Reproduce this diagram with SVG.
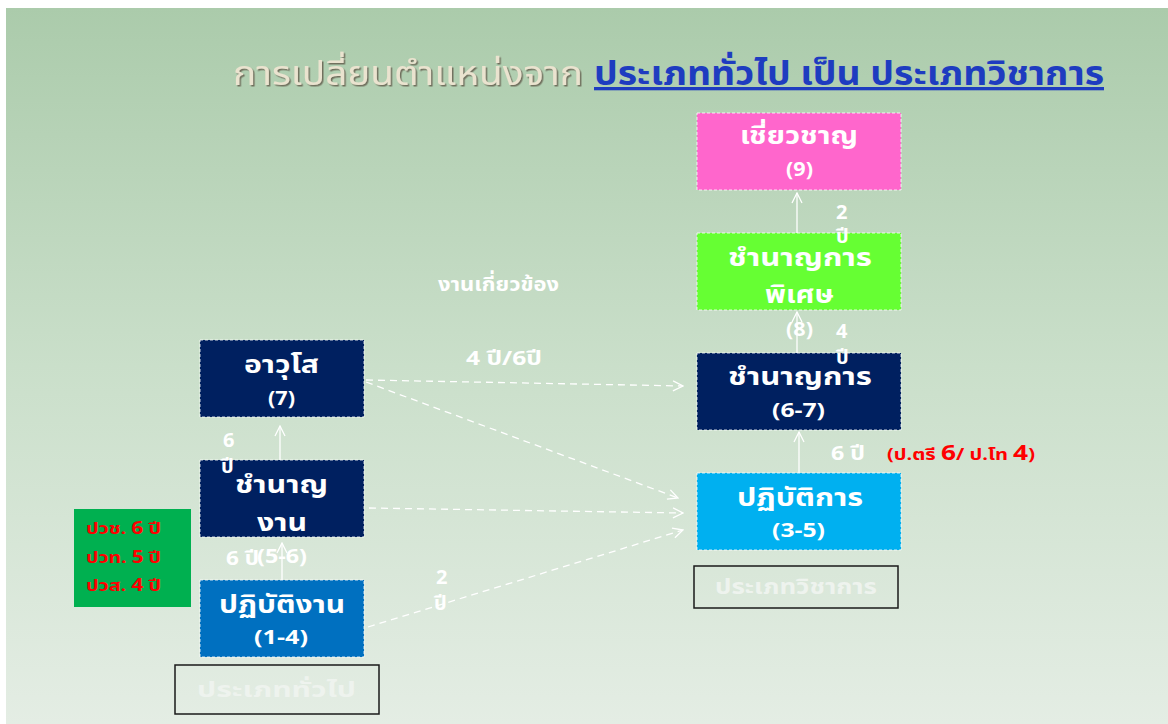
<svg xmlns="http://www.w3.org/2000/svg" width="1168" height="724" viewBox="0 0 1168 724">
<defs>
<linearGradient id="bg" x1="0" y1="0" x2="0" y2="1">
<stop offset="0" stop-color="#abcbab"/>
<stop offset="0.5" stop-color="#cadfca"/>
<stop offset="1" stop-color="#e4ede4"/>
</linearGradient>
<filter id="emb" x="-5%" y="-30%" width="110%" height="160%">
<feDropShadow dx="1.5" dy="1.5" stdDeviation="0.6" flood-color="#6b6655" flood-opacity="0.9"/>
</filter>
<marker id="ah" viewBox="0 0 12 12" refX="11" refY="6" markerWidth="12" markerHeight="12" markerUnits="userSpaceOnUse" orient="auto">
<path d="M1,1 L11,6 L1,11" fill="none" stroke="#ffffff" stroke-width="1.3"/>
</marker>
</defs>
<style>
text{font-family:'Noto Sans Thai','Noto Sans Thai UI','Loma','Garuda','DejaVu Sans','Noto Sans',sans-serif;font-weight:bold;}
.box{stroke:#ffffff;stroke-width:1;stroke-dasharray:3 2;stroke-opacity:0.8;}
.t{fill:#ffffff;font-size:24px;}
.n{fill:#ffffff;font-size:20px;}
.lbl{fill:#ffffff;font-size:20px;}
.cap{fill:none;stroke:#1a1a1a;stroke-width:1.5;}
.capt{fill:#eef3ee;font-size:21px;}
.red{fill:#ff0000;font-size:16px;}
.solid{stroke:#ffffff;stroke-width:1.3;fill:none;}
.dash{stroke:#ffffff;stroke-width:1.3;fill:none;stroke-dasharray:7 5;}
</style>
<rect x="0" y="0" width="1168" height="724" fill="#ffffff"/>
<rect x="6" y="8" width="1162" height="716" fill="url(#bg)"/>

<g id="title">
<text x="233" y="85" font-size="33" fill="#eae3cf" filter="url(#emb)" style="font-weight:normal" textLength="350" lengthAdjust="spacingAndGlyphs">การเปลี่ยนตำแหน่งจาก</text>
<text x="594" y="85" font-size="33" fill="#1e3cc0" text-decoration="underline" textLength="510" lengthAdjust="spacingAndGlyphs">ประเภททั่วไป เป็น ประเภทวิชาการ</text>
</g>

<g id="connectors">
<line class="solid" x1="797" y1="233" x2="797" y2="193" marker-end="url(#ah)"/>
<line class="solid" x1="797" y1="353" x2="797" y2="312" marker-end="url(#ah)"/>
<line class="solid" x1="799" y1="473" x2="799" y2="432" marker-end="url(#ah)"/>
<line class="solid" x1="280" y1="460" x2="280" y2="426" marker-end="url(#ah)"/>
<line class="solid" x1="282" y1="580" x2="282" y2="543" marker-end="url(#ah)"/>
<line class="dash" x1="366" y1="380" x2="683" y2="386" marker-end="url(#ah)"/>
<line class="dash" x1="366" y1="382" x2="678" y2="498" marker-end="url(#ah)"/>
<line class="dash" x1="369" y1="508" x2="683" y2="513" marker-end="url(#ah)"/>
<line class="dash" x1="368" y1="627" x2="683" y2="530" marker-end="url(#ah)"/>
</g>

<g id="n9">
<rect class="box" x="697" y="113" width="204" height="77" fill="#ff66cc"/>
<text class="t" x="740" y="144" textLength="118" lengthAdjust="spacingAndGlyphs">เชี่ยวชาญ</text>
<text class="n" x="786" y="176" textLength="27" lengthAdjust="spacingAndGlyphs">(9)</text>
</g>
<g id="n8">
<rect class="box" x="697" y="233" width="204" height="77" fill="#66ff33"/>
<text class="t" x="728" y="266" textLength="144" lengthAdjust="spacingAndGlyphs">ชำนาญการ</text>
<text class="t" x="765" y="303" textLength="69" lengthAdjust="spacingAndGlyphs">พิเศษ</text>
<text class="n" x="786" y="336" textLength="27" lengthAdjust="spacingAndGlyphs">(8)</text>
</g>
<g id="n67">
<rect class="box" x="697" y="353" width="204" height="77" fill="#002060"/>
<text class="t" x="728" y="385" textLength="144" lengthAdjust="spacingAndGlyphs">ชำนาญการ</text>
<text class="n" x="772" y="417" textLength="53" lengthAdjust="spacingAndGlyphs">(6-7)</text>
</g>
<g id="n35">
<rect class="box" x="697" y="473" width="204" height="77" fill="#00b0f0"/>
<text class="t" x="737" y="506" textLength="126" lengthAdjust="spacingAndGlyphs">ปฏิบัติการ</text>
<text class="n" x="772" y="537" textLength="53" lengthAdjust="spacingAndGlyphs">(3-5)</text>
</g>
<g id="cap-academic">
<rect class="cap" x="694" y="566" width="204" height="42"/>
<text class="capt" x="715" y="594" textLength="162" lengthAdjust="spacingAndGlyphs">ประเภทวิชาการ</text>
</g>

<g id="n7">
<rect class="box" x="200" y="340" width="164" height="77" fill="#002060"/>
<text class="t" x="244" y="373" textLength="75" lengthAdjust="spacingAndGlyphs">อาวุโส</text>
<text class="n" x="268" y="405" textLength="27" lengthAdjust="spacingAndGlyphs">(7)</text>
</g>
<g id="n56">
<rect class="box" x="200" y="460" width="164" height="77" fill="#002060"/>
<text class="t" x="235" y="493" textLength="93" lengthAdjust="spacingAndGlyphs">ชำนาญ</text>
<text class="t" x="257" y="531" textLength="50" lengthAdjust="spacingAndGlyphs">งาน</text>
<text class="n" x="257" y="563" textLength="50" lengthAdjust="spacingAndGlyphs">(5-6)</text>
</g>
<g id="n14">
<rect class="box" x="200" y="580" width="164" height="77" fill="#0070c0"/>
<text class="t" x="219" y="613" textLength="126" lengthAdjust="spacingAndGlyphs">ปฏิบัติงาน</text>
<text class="n" x="254" y="644" textLength="54" lengthAdjust="spacingAndGlyphs">(1-4)</text>
</g>
<g id="cap-general">
<rect class="cap" x="175" y="665" width="204" height="49"/>
<text class="capt" x="197" y="697" textLength="159" lengthAdjust="spacingAndGlyphs">ประเภททั่วไป</text>
</g>
<g id="edu">
<rect x="74" y="509" width="117" height="98" fill="#00b050"/>
<text class="red" x="86" y="534" textLength="75" lengthAdjust="spacingAndGlyphs">ปวช. <tspan font-size="17">6</tspan> ปี</text>
<text class="red" x="86" y="563" textLength="75" lengthAdjust="spacingAndGlyphs">ปวท. <tspan font-size="17">5</tspan> ปี</text>
<text class="red" x="86" y="591" textLength="75" lengthAdjust="spacingAndGlyphs">ปวส. <tspan font-size="17">4</tspan> ปี</text>
</g>

<g id="labels">
<text class="lbl" x="836" y="219">2</text>
<text class="lbl" x="836" y="243" font-size="17">ปี</text>
<text class="lbl" x="836" y="338">4</text>
<text class="lbl" x="836" y="364" font-size="17">ปี</text>
<text class="lbl" x="831" y="460" textLength="34" lengthAdjust="spacingAndGlyphs">6 ปี</text>
<text class="red" x="887" y="460" textLength="148" lengthAdjust="spacingAndGlyphs">(ป.ตรี <tspan font-size="21">6</tspan>/ ป.โท <tspan font-size="21">4</tspan>)</text>
<text class="lbl" x="223" y="447" font-size="15">6</text>
<text class="lbl" x="221" y="473" font-size="15">ปี</text>
<text class="lbl" x="226" y="565" textLength="33" lengthAdjust="spacingAndGlyphs">6 ปี</text>
<text class="lbl" x="438" y="291" font-size="17" textLength="121" lengthAdjust="spacingAndGlyphs">งานเกี่ยวข้อง</text>
<text class="lbl" x="466" y="365" font-size="18" textLength="76" lengthAdjust="spacingAndGlyphs">4 ปี/6ปี</text>
<text class="lbl" x="436" y="584">2</text>
<text class="lbl" x="434" y="610" font-size="17">ปี</text>
</g>
</svg>
